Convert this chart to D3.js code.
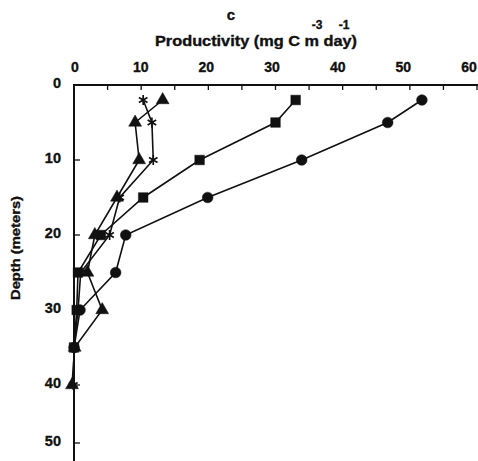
<!DOCTYPE html>
<html><head><meta charset="utf-8">
<script src="https://cdn.jsdelivr.net/npm/d3@7"></script>
<style>
html,body{margin:0;padding:0;background:#fff;}
text{font-family:"Liberation Sans",Arial,sans-serif;font-weight:bold;fill:#111;stroke:#111;stroke-width:0.35px;}
</style></head>
<body><svg id="chart" width="478" height="461"></svg>
<script>
// ---- data ----
const depths = [2, 5, 10, 15, 20, 25, 30, 35, 40];
const circleValues   = [51.8, 46.7, 33.9, 19.9, 7.7, 6.2, 0.9, 0.0];
const squareValues   = [33.0, 30.0, 18.7, 10.3, 4.0, 0.6, 0.4, 0.0];
const triangleValues = [13.2, 9.1, 9.7, 6.4, 3.1, 2.0, 4.2, 0.1, -0.3];
const starValues     = [10.3, 11.6, 11.8, 6.8, 5.3, 1.0, 0.6, 0.0, -0.1];
const xTicks = [0, 10, 20, 30, 40, 50, 60];
const xMinorTicks = [5, 15, 25, 35, 45, 55];
const yTicks = [0, 10, 20, 30, 40, 50];
const panelLabel = "c";
const xTitle = "Productivity (mg C m day)";
const xTitleSup = ["-3", "-1"];
const yTitle = "Depth (meters)";

const svg = d3.select("#chart");
const x = d3.scaleLinear().domain([0, 60]).range([74, 477]);
const y = d3.scaleLinear().domain([0, 40, 50]).range([85, 385, 443]);

// axes
const topAxis = svg.append("g");
topAxis.append("line").attr("x1", 74).attr("x2", 478).attr("y1", 85).attr("y2", 85)
  .attr("stroke", "#111").attr("stroke-width", 2);
topAxis.selectAll("line.tk").data(xTicks.concat(xMinorTicks)).join("line").attr("class","tk")
  .attr("x1", d => x(d)).attr("x2", d => x(d)).attr("y1", 85).attr("y2", 90)
  .attr("stroke", "#111").attr("stroke-width", 1.3);
topAxis.selectAll("text.tl").data(xTicks).join("text").attr("class","tl")
  .attr("x", d => x(d) - d * 0.15 + 1).attr("y", 72)
  .attr("text-anchor", "middle").attr("font-size", 14).text(d => d);

const leftAxis = svg.append("g");
leftAxis.append("line").attr("x1", 74).attr("x2", 74).attr("y1", 84).attr("y2", 461)
  .attr("stroke", "#111").attr("stroke-width", 2);
leftAxis.selectAll("line.tk").data(yTicks.slice(1)).join("line").attr("class","tk")
  .attr("x1", 74).attr("x2", 80).attr("y1", d => y(d)).attr("y2", d => y(d))
  .attr("stroke", "#111").attr("stroke-width", 1.3);
leftAxis.selectAll("text.tl").data(yTicks).join("text").attr("class","tl")
  .attr("x", 61).attr("y", d => y(d) + 3)
  .attr("text-anchor", "end").attr("font-size", 14.5).text(d => d);

// titles
svg.append("text").attr("x", 231).attr("y", 20).attr("text-anchor", "middle")
  .attr("font-size", 15).text(panelLabel);
svg.append("text").attr("x", 256).attr("y", 46).attr("text-anchor", "middle")
  .attr("font-size", 14).attr("textLength", 202).attr("lengthAdjust", "spacingAndGlyphs")
  .text(xTitle);
svg.append("text").attr("x", 317).attr("y", 29).attr("text-anchor", "middle")
  .attr("font-size", 12).text(xTitleSup[0]);
svg.append("text").attr("x", 344).attr("y", 29).attr("text-anchor", "middle")
  .attr("font-size", 12).text(xTitleSup[1]);
svg.append("text").attr("transform", "translate(20,248) rotate(-90)")
  .attr("text-anchor", "middle").attr("font-size", 13)
  .attr("textLength", 104).attr("lengthAdjust", "spacingAndGlyphs").text(yTitle);

// series
const series = [
  {vals: circleValues, sym: d3.symbolCircle, size: 90, fill: true},
  {vals: squareValues, sym: d3.symbolSquare, size: 92, fill: true},
  {vals: triangleValues, sym: d3.symbolTriangle, size: 72, fill: true},
  {vals: starValues, sym: d3.symbolAsterisk, size: 68, fill: false}
];
const line = d3.line().x(d => x(d[0])).y(d => y(d[1]));
series.forEach(s => {
  const pts = s.vals.map((v, i) => [v, depths[i]]);
  svg.append("path").attr("d", line(pts)).attr("fill", "none")
    .attr("stroke", "#111").attr("stroke-width", 1.6);
  svg.append("g").selectAll("path").data(pts).join("path")
    .attr("transform", d => `translate(${x(d[0])},${y(d[1])})`)
    .attr("d", d3.symbol().type(s.sym).size(s.size))
    .attr("fill", s.fill ? "#111" : "none")
    .attr("stroke", "#111").attr("stroke-width", s.fill ? 0.5 : 1.7);
});
</script></body></html>
